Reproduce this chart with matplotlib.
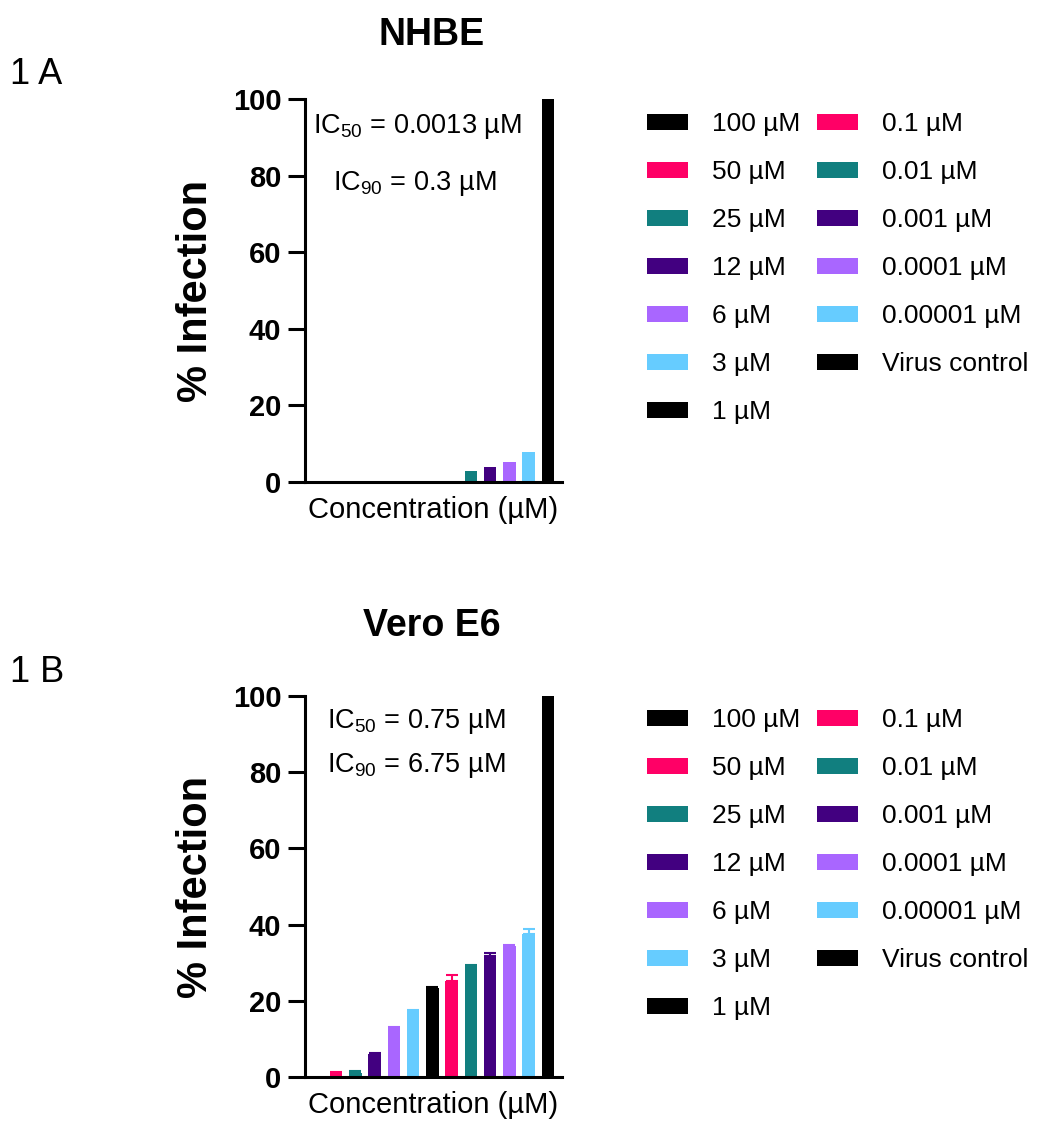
import numpy as np
import matplotlib
matplotlib.use("Agg")
import matplotlib.pyplot as plt
from matplotlib.patches import Patch

plt.rcParams['font.family'] = ['Liberation Sans', 'DejaVu Sans']
plt.rcParams['mathtext.fontset'] = 'custom'
plt.rcParams['mathtext.rm'] = 'Liberation Sans'
plt.rcParams['mathtext.default'] = 'regular'

# ---- data ----
conc_labels = ['100 µM', '50 µM', '25 µM', '12 µM', '6 µM', '3 µM', '1 µM',
               '0.1 µM', '0.01 µM', '0.001 µM', '0.0001 µM', '0.00001 µM',
               'Virus control']
bar_colors = ['#000000', '#FF0066', '#117F7F', '#420080', '#A966FF', '#66CCFF',
              '#000000', '#FF0066', '#117F7F', '#420080', '#A966FF', '#66CCFF',
              '#000000']

nhbe_vals = [0, 0, 0, 0, 0, 0, 0, 0, 2.9, 3.9, 5.2, 7.9, 100]
nhbe_err = [0, 0, 0, 0, 0, 0, 0, 0, 0, 0, 0, 0, 0]

vero_vals = [0, 1.1, 1.0, 6.1, 12.9, 17.2, 23.4, 25.3, 29.0, 31.7, 34.4, 37.6, 100]
vero_err = [0, 0.2, 0.7, 0.2, 0.3, 0.3, 0.2, 1.6, 0.3, 0.9, 0.2, 1.3, 0.2]

panels = [
    dict(title='NHBE', tag='1 A', vals=nhbe_vals, err=nhbe_err,
         ic50='IC$_{50}$ = 0.0013 µM', ic90='IC$_{90}$ = 0.3 µM'),
    dict(title='Vero E6', tag='1 B', vals=vero_vals, err=vero_err,
         ic50='IC$_{50}$ = 0.75 µM', ic90='IC$_{90}$ = 6.75 µM'),
]

W, H = 1039, 1130
fig = plt.figure(figsize=(W / 100, H / 100), dpi=100)

def fx(px):
    return px / W

def fy(py):
    return 1 - py / H

# per-panel pixel layout
layout = [
    dict(top=99, bot=482, title_y=35, tag_y=75, ic50=(313, 133), ic90=(333, 190), leg_top=112),
    dict(top=696, bot=1077, title_y=626, tag_y=672, ic50=(327, 728), ic90=(327, 772), leg_top=708),
]

x = np.arange(len(conc_labels))
for p, L in zip(panels, layout):
    ax = fig.add_axes([fx(305), fy(L['bot']), fx(562) - fx(305), (L['bot'] - L['top']) / H])
    ax.bar(x, p['vals'], width=0.65, color=bar_colors, linewidth=0)
    for xi, v, e, c in zip(x, p['vals'], p['err'], bar_colors):
        if e > 0:
            ax.errorbar(xi, v, yerr=[[0], [e]], fmt='none', ecolor=c,
                        elinewidth=1.5, capsize=4, capthick=1.5)
    ax.set_xlim(-0.62, 12.73)
    ax.set_ylim(0, 100)
    ax.set_yticks([0, 20, 40, 60, 80, 100])
    ax.set_xticks([])
    for s in ['top', 'right']:
        ax.spines[s].set_visible(False)
    for s in ['left', 'bottom']:
        ax.spines[s].set_linewidth(2.2)
    ax.tick_params(axis='y', direction='out', length=12, width=2.2, pad=5, labelsize=21)
    for t in ax.get_yticklabels():
        t.set_fontweight('bold')
    ax.set_ylabel('% Infection', fontsize=30, fontweight='bold')
    ax.yaxis.set_label_coords(-0.345, 0.5)
    ax.set_xlabel('Concentration (µM)', fontsize=21, labelpad=10)

    fig.text(fx(432), fy(L['title_y']), p['title'], ha='center', va='center',
             fontsize=27, fontweight='bold')
    fig.text(fx(10), fy(L['tag_y']), p['tag'], ha='left', va='center', fontsize=26)
    fig.text(fx(L['ic50'][0]), fy(L['ic50'][1]), p['ic50'], ha='left', va='baseline', fontsize=19.5)
    fig.text(fx(L['ic90'][0]), fy(L['ic90'][1]), p['ic90'], ha='left', va='baseline', fontsize=19.5)

    handles = [Patch(facecolor=c, edgecolor='none') for c in bar_colors]
    fig.legend(handles, conc_labels, loc='upper left',
               bbox_to_anchor=(fx(647), fy(L['leg_top'])), ncol=2,
               frameon=False, fontsize=19, borderpad=0, borderaxespad=0,
               handlelength=1.55, handleheight=0.57, handletextpad=0.91,
               labelspacing=0.91, columnspacing=0.64)

fig.savefig('out.png', dpi=100)
